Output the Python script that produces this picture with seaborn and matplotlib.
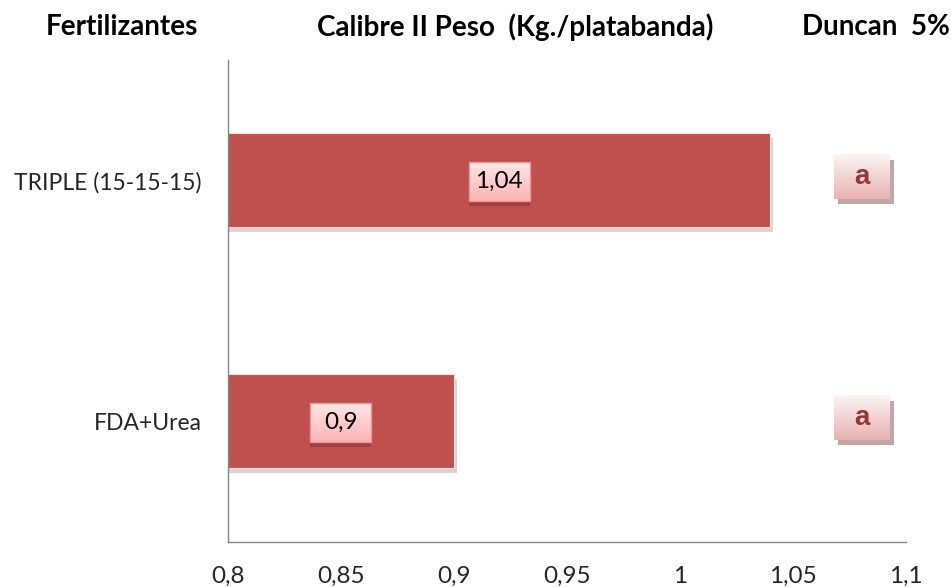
import matplotlib
matplotlib.use("Agg")
import matplotlib.pyplot as plt
import matplotlib.patheffects as pe
from matplotlib.patches import Rectangle
from matplotlib.colors import LinearSegmentedColormap
import numpy as np
import seaborn as sns
import pandas as pd

# Data
fertilizantes = ["TRIPLE (15-15-15)", "FDA+Urea"]
peso = [1.04, 0.90]
duncan = ["a", "a"]
x_ticks = [0.8, 0.85, 0.9, 0.95, 1.0, 1.05, 1.1]
x_tick_labels = ["0,8", "0,85", "0,9", "0,95", "1", "1,05", "1,1"]

df = pd.DataFrame({"Fertilizante": fertilizantes, "Peso": peso})

sns.set_theme(style="white")
plt.rcParams["font.family"] = ["Lato", "DejaVu Sans"]

fig = plt.figure(figsize=(9.51, 5.87), dpi=100)
ax = fig.add_axes([0.2397, 0.0767, 0.7130, 0.8211])

bar_color = "#C0504D"
sns.barplot(data=df, y="Fertilizante", x="Peso", orient="h", ax=ax,
            color=bar_color, saturation=1, width=0.39)

for p in ax.patches:
    p.set_edgecolor("#F2DCDB")
    p.set_linewidth(0.8)
    p.set_path_effects([pe.SimplePatchShadow(offset=(2, -3), alpha=0.22,
                                             shadow_rgbFace="#7a2a28"),
                        pe.Normal()])

ax.set_xlim(0.8, 1.1)
ax.set_ylim(1.5, -0.5)
ax.set_autoscale_on(False)
ax.set_xticks(x_ticks)
ax.set_xticklabels(x_tick_labels, fontsize=17.5)
ax.set_xlabel("")
ax.set_ylabel("")

# Category labels without marks, boundary ticks as minor ticks
ax.set_yticks(range(len(fertilizantes)))
ax.set_yticklabels(fertilizantes, fontsize=16.5)
ax.set_yticks([-0.5, 0.5, 1.5], minor=True)
ax.tick_params(axis="y", which="major", length=0, pad=19)
ax.tick_params(axis="y", which="minor", length=8, width=1, color="#868686",
               direction="out")
ax.tick_params(axis="x", which="major", length=6, width=1, color="#868686",
               direction="out", pad=11)

for side in ["top", "right"]:
    ax.spines[side].set_visible(False)
for side in ["left", "bottom"]:
    ax.spines[side].set_color("#868686")
    ax.spines[side].set_linewidth(1)

value_cmap = LinearSegmentedColormap.from_list("vbox", ["#FFE6E6", "#FFB3B3"])
letter_cmap = LinearSegmentedColormap.from_list("lbox", ["#FCF4F4", "#E8B2B2"])
grad = np.linspace(0, 1, 64).reshape(-1, 1)


def gradient_box(x, y, w_px, h_px, cmap, edge, shadow, shadow_off):
    """Draw a vertically shaded box of fixed pixel size centred on data (x, y)."""
    cx, cy = ax.transData.transform((x, y))
    inv = ax.transData.inverted()
    sx, sy = shadow_off
    (x0, y0) = inv.transform((cx - w_px / 2 + sx, cy - h_px / 2 - sy))
    (x1, y1) = inv.transform((cx + w_px / 2 + sx, cy + h_px / 2 - sy))
    ax.add_patch(Rectangle((x0, y1), x1 - x0, y0 - y1, facecolor=shadow,
                           edgecolor="none", alpha=0.6, zorder=4,
                           clip_on=False))
    (x0, y0) = inv.transform((cx - w_px / 2, cy - h_px / 2))
    (x1, y1) = inv.transform((cx + w_px / 2, cy + h_px / 2))
    # y axis is inverted: y1 is the visual top
    ax.imshow(grad, cmap=cmap, extent=(x0, x1, y0, y1), origin="upper",
              aspect="auto", zorder=5, clip_on=False, interpolation="bilinear")
    if edge:
        ax.add_patch(Rectangle((x0, y1), x1 - x0, y0 - y1, facecolor="none",
                               edgecolor=edge, linewidth=1, zorder=6,
                               clip_on=False))


# Value labels centred on each bar
for i, v in enumerate(peso):
    xc = (0.8 + v) / 2
    gradient_box(xc, i + 0.005, 61, 39, value_cmap, "#E39A98", "#8E3330",
                 (0, 5))
    ax.text(xc, i + 0.005, f"{v:g}".replace(".", ","), ha="center",
            va="center", fontsize=17.5, color="black", zorder=7)

# Duncan grouping letters
for i, letter in enumerate(duncan):
    gradient_box(1.0805, i - 0.015, 56, 44, letter_cmap, None, "#9E6A6A",
                 (4, 5))
    ax.text(1.0805, i - 0.015, letter, ha="center", va="center",
            fontsize=20, fontweight="bold", color="#953735",
            family=["Liberation Sans", "DejaVu Sans"], zorder=7,
            clip_on=False)

ax.set_xlim(0.8, 1.1)
ax.set_ylim(1.5, -0.5)

# Column headers
head_kw = dict(fontsize=20, fontweight="bold", color="black",
               va="center", ha="center")
fig.text(122 / 951, 1 - 27 / 587, "Fertilizantes", **head_kw)
fig.text(515 / 951, 1 - 27 / 587, "Calibre II Peso  (Kg./platabanda)", **head_kw)
fig.text(876 / 951, 1 - 27 / 587, "Duncan  5%", **head_kw)

fig.savefig("out.png", dpi=100)
